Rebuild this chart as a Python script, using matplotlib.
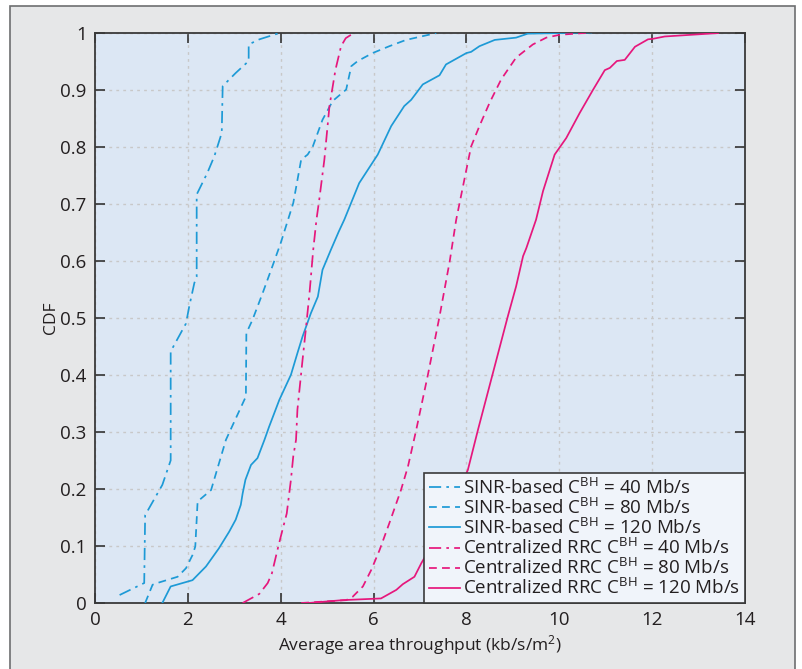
import matplotlib
matplotlib.use("Agg")
import matplotlib.pyplot as plt
from matplotlib.patches import Rectangle

plt.rcParams['font.family'] = ['Open Sans', 'DejaVu Sans']
plt.rcParams['mathtext.default'] = 'regular'

BLUE = '#1d9ad6'
PINK = '#e6177c'

sinr40_x = [0.53, 1.06, 1.08, 1.45, 1.63, 1.63, 1.96, 2.03, 2.14, 2.19, 2.19, 2.42, 2.57, 2.73, 2.75, 3.03, 3.31, 3.31, 3.54, 3.93, 4.0]
sinr40_y = [0.014, 0.035, 0.154, 0.207, 0.25, 0.441, 0.49, 0.52, 0.561, 0.572, 0.716, 0.754, 0.783, 0.824, 0.906, 0.929, 0.950, 0.979, 0.988, 0.998, 1.0]

sinr80_x = [1.08, 1.24, 1.34, 1.78, 1.96, 2.10, 2.16, 2.21, 2.50, 2.82, 3.25, 3.26, 3.39, 3.61, 3.82, 4.0, 4.27, 4.44, 4.58, 4.69, 4.90, 5.12, 5.41, 5.52, 5.66, 5.98, 6.34, 6.70, 7.35]
sinr80_y = [0.0, 0.032, 0.035, 0.046, 0.061, 0.084, 0.099, 0.178, 0.198, 0.286, 0.362, 0.473, 0.496, 0.543, 0.59, 0.631, 0.701, 0.777, 0.786, 0.80, 0.847, 0.88, 0.90, 0.941, 0.95, 0.964, 0.976, 0.987, 0.999]

sinr120_x = [1.45, 1.63, 2.10, 2.39, 2.67, 2.89, 3.03, 3.14, 3.18, 3.24, 3.36, 3.50, 3.65, 3.75, 3.97, 4.22, 4.36, 4.47, 4.65, 4.80, 4.90, 5.08, 5.25, 5.37, 5.69, 6.09, 6.38, 6.66, 6.81, 7.06, 7.42, 7.56, 8.0, 8.10, 8.28, 8.61, 9.07, 9.32, 10.69]
sinr120_y = [0.0, 0.029, 0.04, 0.064, 0.096, 0.125, 0.146, 0.172, 0.192, 0.216, 0.242, 0.254, 0.286, 0.309, 0.356, 0.40, 0.438, 0.467, 0.508, 0.537, 0.584, 0.619, 0.651, 0.672, 0.736, 0.786, 0.836, 0.871, 0.882, 0.909, 0.925, 0.944, 0.964, 0.966, 0.976, 0.987, 0.991, 0.998, 1.0]

crrc40_x = [3.18, 3.54, 3.72, 3.81, 3.93, 4.0, 4.13, 4.22, 4.27, 4.33, 4.36, 4.47, 4.54, 4.62, 4.70, 4.77, 4.83, 4.94, 5.05, 5.18, 5.30, 5.40, 5.59]
crrc40_y = [0.0, 0.016, 0.035, 0.052, 0.093, 0.116, 0.157, 0.216, 0.257, 0.286, 0.339, 0.426, 0.479, 0.543, 0.619, 0.672, 0.707, 0.777, 0.871, 0.935, 0.976, 0.99, 1.0]

crrc80_x = [4.44, 5.41, 5.55, 5.77, 5.95, 6.13, 6.34, 6.59, 6.74, 6.92, 7.17, 7.42, 7.64, 7.78, 8.10, 8.28, 8.50, 8.75, 9.07, 9.43, 9.72, 10.01, 10.69]
crrc80_y = [0.0, 0.005, 0.011, 0.029, 0.058, 0.093, 0.14, 0.198, 0.239, 0.304, 0.40, 0.502, 0.599, 0.672, 0.80, 0.836, 0.877, 0.918, 0.956, 0.979, 0.991, 0.996, 1.0]

crrc120_x = [4.6, 5.33, 6.16, 6.49, 6.63, 6.88, 7.03, 7.13, 7.55, 8.03, 8.25, 8.57, 8.89, 9.07, 9.22, 9.29, 9.50, 9.65, 9.90, 10.15, 10.44, 10.73, 10.98, 11.09, 11.24, 11.41, 11.63, 11.91, 12.02, 12.27, 13.42]
crrc120_y = [0.0, 0.005, 0.008, 0.023, 0.033, 0.046, 0.07, 0.084, 0.15, 0.233, 0.304, 0.403, 0.502, 0.555, 0.608, 0.622, 0.672, 0.722, 0.786, 0.815, 0.859, 0.90, 0.934, 0.938, 0.95, 0.952, 0.975, 0.988, 0.989, 0.993, 0.999]

labels = [
    'SINR-based C$^{BH}$ = 40 Mb/s',
    'SINR-based C$^{BH}$ = 80 Mb/s',
    'SINR-based C$^{BH}$ = 120 Mb/s',
    'Centralized RRC C$^{BH}$ = 40 Mb/s',
    'Centralized RRC C$^{BH}$ = 80 Mb/s',
    'Centralized RRC C$^{BH}$ = 120 Mb/s',
]
x_ticks = [0, 2, 4, 6, 8, 10, 12, 14]
y_ticks = [0, 0.1, 0.2, 0.3, 0.4, 0.5, 0.6, 0.7, 0.8, 0.9, 1]
y_ticklabels = ['0', '0.1', '0.2', '0.3', '0.4', '0.5', '0.6', '0.7', '0.8', '0.9', '1']

DASHDOT = (0, (7, 3, 1.5, 3))
DASHED = (0, (4.5, 3))

fig = plt.figure(figsize=(8.03, 6.69), dpi=100, facecolor='white')
# outer frame
frame = Rectangle((10.5 / 803, -0.05), (795 - 10.5) / 803, 1.05 - 5.5 / 669,
                  transform=fig.transFigure, facecolor='#e6e7e8',
                  edgecolor='#6d6e70', linewidth=1.2, zorder=-10)
fig.patches.append(frame)

ax = fig.add_axes([95 / 803, (669 - 603) / 669, (745 - 95) / 803, (603 - 32.5) / 669])
ax.set_zorder(1)
ax.set_facecolor('#dce7f4')

series = [
    (sinr40_x, sinr40_y, BLUE, DASHDOT),
    (sinr80_x, sinr80_y, BLUE, DASHED),
    (sinr120_x, sinr120_y, BLUE, '-'),
    (crrc40_x, crrc40_y, PINK, DASHDOT),
    (crrc80_x, crrc80_y, PINK, DASHED),
    (crrc120_x, crrc120_y, PINK, '-'),
]
for (xs, ys, c, ls), lab in zip(series, labels):
    ax.plot(xs, ys, color=c, linestyle=ls, linewidth=1.25, label=lab, zorder=3)

ax.set_xlim(0, 14)
ax.set_ylim(0, 1)
ax.set_xticks(x_ticks)
ax.set_yticks(y_ticks)
ax.set_yticklabels(y_ticklabels)
ax.tick_params(direction='in', length=7, width=1.2, color='#333333', top=True, right=True,
               labelsize=13.5, labelcolor='#231f20', pad=6)
ax.grid(True, linestyle=(0, (2, 3)), color='#c8c8c8', linewidth=1.0)
for s in ax.spines.values():
    s.set_color('#3a3a3a')
    s.set_linewidth(1.3)

ax.set_xlabel('Average area throughput (kb/s/m$^2$)', fontsize=12.5, color='#231f20', labelpad=3)
ax.set_ylabel('CDF', fontsize=12.5, color='#231f20', labelpad=1)

leg = ax.legend(loc='lower right', bbox_to_anchor=(1.0, 0.0), borderaxespad=0,
                fontsize=13.5, fancybox=False, framealpha=1, facecolor='#f0f4fa',
                edgecolor='#3a3a3a', handlelength=1.65, handletextpad=0.2,
                labelspacing=0.0, borderpad=0.25)
leg.get_frame().set_linewidth(1.2)
leg.set_zorder(5)
for t in leg.get_texts():
    t.set_color('#231f20')

fig.savefig('out.png', dpi=100, facecolor='white')
